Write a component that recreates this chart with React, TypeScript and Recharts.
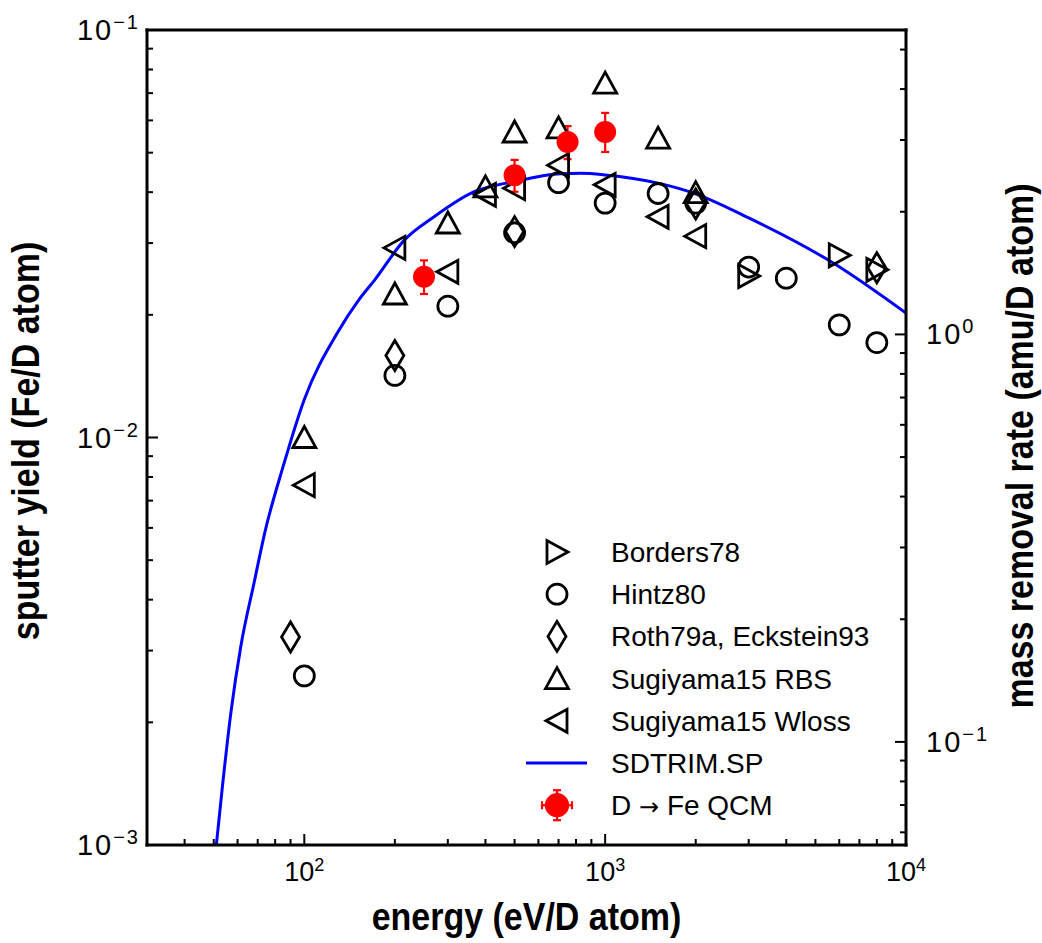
import React from "react";
import { ComposedChart, Scatter, Line, XAxis, YAxis, ErrorBar, Legend } from "recharts";

const FONT = "'Liberation Sans', Arial, Helvetica, sans-serif";
const W = 1042;
const H = 943;
const PLOT = { left: 147, top: 30, right: 906, bottom: 845 };
const FE_AMU = 55.85;

// energy (eV/D) and sputter yield (Fe/D)
const bordersE = [3000, 6000, 8000];
const bordersY = [0.0249, 0.028, 0.0258];

const hintzE = [100, 200, 300, 500, 700, 1000, 1500, 2000, 3000, 4000, 6000, 8000];
const hintzY = [0.0026, 0.0142, 0.021, 0.0318, 0.0422, 0.0376, 0.0397, 0.0376, 0.0262, 0.0246, 0.0189, 0.0171];

const rothE = [90, 200, 500, 2000, 8000];
const rothY = [0.00324, 0.0159, 0.032, 0.0374, 0.0261];

const rbsE = [100, 200, 300, 400, 500, 700, 1000, 1500, 2000];
const rbsY = [0.01, 0.0225, 0.0336, 0.0412, 0.0562, 0.0575, 0.0741, 0.0543, 0.0399];

const wlossE = [100, 200, 300, 400, 500, 700, 1000, 1500, 2000];
const wlossY = [0.00764, 0.0292, 0.0255, 0.0394, 0.0409, 0.0466, 0.0417, 0.0348, 0.0312];

const qcmE = [250, 500, 750, 1000];
const qcmY = [0.0248, 0.044, 0.0531, 0.0562];
const qcmLo = [0.0225, 0.0401, 0.0482, 0.0502];
const qcmHi = [0.0272, 0.048, 0.0581, 0.0626];

const sdE = [51, 53.7, 57, 61.5, 68.4, 73.8, 85, 100, 129, 152, 171, 215, 270, 367, 500, 711, 830, 1000, 1500, 1966, 3000, 5730, 10000];
const sdY = [0.001, 0.00144, 0.00211, 0.00307, 0.00447, 0.00582, 0.00848, 0.0124, 0.0181, 0.0218, 0.0243, 0.0305, 0.0348, 0.0401, 0.0425, 0.0444, 0.0445, 0.0441, 0.0421, 0.0398, 0.0346, 0.0268, 0.0202];

// axis ticks
const xMajor = [100, 1000, 10000];
const xMinor = [40, 50, 60, 70, 80, 90, 200, 300, 400, 500, 600, 700, 800, 900, 2000, 3000, 4000, 5000, 6000, 7000, 8000, 9000];
const yMajor = [0.001, 0.01, 0.1];
const yMinor = [0.002, 0.003, 0.004, 0.005, 0.006, 0.007, 0.008, 0.009, 0.02, 0.03, 0.04, 0.05, 0.06, 0.07, 0.08, 0.09];
const rMajor = [0.1, 1];
const rMinor = [0.06, 0.07, 0.08, 0.09, 0.2, 0.3, 0.4, 0.5, 0.6, 0.7, 0.8, 0.9, 2, 3, 4, 5];

const legendNames = ["Borders78", "Hintz80", "Roth79a, Eckstein93", "Sugiyama15 RBS", "Sugiyama15 Wloss", "SDTRIM.SP", "D \u2192 Fe QCM"];

const xDomain: [number, number] = [30, 10000];
const yDomain: [number, number] = [0.001, 0.1];
const rDomain: [number, number] = [0.001 * FE_AMU, 0.1 * FE_AMU];

const pts = (e: number[], y: number[]) => e.map((v, i) => ({ e: v, y: y[i] }));
const borders = pts(bordersE, bordersY);
const hintz = pts(hintzE, hintzY);
const roth = pts(rothE, rothY);
const rbs = pts(rbsE, rbsY);
const wloss = pts(wlossE, wlossY);
const sdtrim = pts(sdE, sdY);
const qcm = qcmE.map((e, i) => ({ e, y: qcmY[i], err: [qcmY[i] - qcmLo[i], qcmHi[i] - qcmY[i]] }));

const open = { fill: "none", stroke: "#000", strokeWidth: 2.8 };

const circle = (cx: number, cy: number) => <circle cx={cx} cy={cy} r={10} {...open} />;
const triUp = (cx: number, cy: number) => (
  <path d={`M${cx},${cy - 11} L${cx + 11.5},${cy + 10} L${cx - 11.5},${cy + 10} Z`} {...open} />
);
const triLeft = (cx: number, cy: number) => (
  <path d={`M${cx - 11},${cy} L${cx + 10},${cy - 11.5} L${cx + 10},${cy + 11.5} Z`} {...open} />
);
const triRight = (cx: number, cy: number) => (
  <path d={`M${cx + 11},${cy} L${cx - 10},${cy - 11.5} L${cx - 10},${cy + 11.5} Z`} {...open} />
);
const diamond = (cx: number, cy: number) => (
  <path d={`M${cx},${cy - 15} L${cx + 9},${cy} L${cx},${cy + 15} L${cx - 9},${cy} Z`} {...open} />
);
const redDot = (cx: number, cy: number) => <circle cx={cx} cy={cy} r={11} fill="#ff0000" />;

const shape = (fn: (cx: number, cy: number) => React.ReactElement) => (p: any) => fn(p.cx, p.cy);

const pow = (v: number) => {
  const p = Math.round(Math.log10(v));
  return p < 0 ? `\u2212${-p}` : `${p}`;
};

type Side = "bottom" | "top" | "left" | "right";

// inward tick mark (longer on decades) plus the 10^n label on labelled sides
const makeTick = (side: Side, major: number[], labelled: boolean) => (props: any) => {
  const { x, y, payload } = props;
  const isMajor = major.includes(payload.value);
  const len = isMajor ? 11 : 6;
  let line;
  if (side === "bottom") line = <line x1={x} x2={x} y1={y} y2={y - len} />;
  else if (side === "top") line = <line x1={x} x2={x} y1={y} y2={y + len} />;
  else if (side === "left") line = <line x1={x} x2={x + len} y1={y} y2={y} />;
  else line = <line x1={x} x2={x - len} y1={y} y2={y} />;
  let label = null;
  if (labelled && isMajor) {
    if (side === "bottom") {
      label = (
        <text x={x} y={y + 36} textAnchor="middle" fontFamily={FONT} fontSize={27} fill="#000" stroke="none">
          10<tspan dy={-10} fontSize={18}>{pow(payload.value)}</tspan>
        </text>
      );
    } else {
      const left = side === "left";
      label = (
        <text
          x={left ? x - 7 : x + 20}
          y={y + 10}
          textAnchor={left ? "end" : "start"}
          fontFamily={FONT}
          fontSize={29}
          letterSpacing={2}
          fill="#000"
          stroke="none"
        >
          10<tspan dy={-11} fontSize={20}>{pow(payload.value)}</tspan>
        </text>
      );
    }
  }
  return (
    <g stroke="#000" strokeWidth={2}>
      {line}
      {label}
    </g>
  );
};

const title = (text: string, x: number, y: number, rotate: boolean) => (
  <text
    transform={`translate(${x}, ${y})${rotate ? " rotate(-90)" : ""} scale(1, 1.15)`}
    textAnchor="middle"
    fontFamily={FONT}
    fontWeight="bold"
    fontSize={34}
    fill="#000"
  >
    {text}
  </text>
);

function legendSymbol(i: number, cx: number, cy: number) {
  switch (i) {
    case 0: return triRight(cx, cy);
    case 1: return circle(cx, cy);
    case 2: return diamond(cx, cy);
    case 3: return triUp(cx, cy);
    case 4: return triLeft(cx, cy);
    case 5: return <line x1={cx - 31} x2={cx + 30} y1={cy} y2={cy} stroke="#0000ff" strokeWidth={3} />;
    default:
      return (
        <g stroke="#ff0000" strokeWidth={2.2}>
          <line x1={cx} x2={cx} y1={cy - 15} y2={cy + 15} />
          <line x1={cx - 4} x2={cx + 4} y1={cy - 15} y2={cy - 15} />
          <line x1={cx - 4} x2={cx + 4} y1={cy + 15} y2={cy + 15} />
          <line x1={cx - 15} x2={cx + 15} y1={cy} y2={cy} />
          <line x1={cx - 15} x2={cx - 15} y1={cy - 4} y2={cy + 4} />
          <line x1={cx + 15} x2={cx + 15} y1={cy - 4} y2={cy + 4} />
          {redDot(cx, cy)}
        </g>
      );
  }
}

// the arrow glyph is drawn in DejaVu, whose arrow is long like the original's
const legendText = (name: string) => {
  const parts = name.split("\u2192");
  if (parts.length < 2) return name;
  return (
    <>
      {parts[0]}
      <tspan fontFamily="'DejaVu Sans'" fontSize={24}>{"\u2192"}</tspan>
      {parts[1]}
    </>
  );
};

function renderLegend() {
  return (
    <svg width={400} height={310}>
      {legendNames.map((name, i) => {
        const cy = 27 + i * 42.2;
        return (
          <g key={name}>
            {legendSymbol(i, 37, cy)}
            <text x={91} y={cy + 10} fontFamily={FONT} fontSize={28} fill="#000">{legendText(name)}</text>
          </g>
        );
      })}
    </svg>
  );
}

const frame = { stroke: "#000", strokeWidth: 3, strokeLinecap: "square" as const };

export default function App() {
  const common = {
    type: "number" as const,
    scale: "log" as const,
    allowDataOverflow: true,
    interval: 0 as const,
    tickSize: 0,
    tickMargin: 0,
    tickLine: false,
    axisLine: frame,
    stroke: "#000",
  };
  return (
    <div style={{ position: "absolute", left: 0, top: 0, width: W, height: H, background: "#fff" }}>
      <ComposedChart
        width={W}
        height={H}
        margin={{ top: PLOT.top - 1, right: W - PLOT.right - 1, bottom: H - PLOT.bottom - 1, left: PLOT.left - 1 }}
      >
        <XAxis
          xAxisId="x"
          dataKey="e"
          {...common}
          height={1}
          domain={xDomain}
          ticks={[...xMajor, ...xMinor]}
          tick={makeTick("bottom", xMajor, true)}
          label={() => title("energy (eV/D atom)", (PLOT.left + PLOT.right) / 2, 930, false)}
        />
        <XAxis
          xAxisId="top"
          orientation="top"
          {...common}
          height={1}
          domain={xDomain}
          ticks={[...xMajor, ...xMinor]}
          tick={makeTick("top", xMajor, false)}
        />
        <YAxis
          yAxisId="y"
          dataKey="y"
          {...common}
          width={1}
          domain={yDomain}
          ticks={[...yMajor, ...yMinor]}
          tick={makeTick("left", yMajor, true)}
          label={() => title("sputter yield (Fe/D atom)", 39, 441, true)}
        />
        <YAxis
          yAxisId="amu"
          orientation="right"
          {...common}
          width={1}
          domain={rDomain}
          ticks={[...rMajor, ...rMinor]}
          tick={makeTick("right", rMajor, true)}
          label={() => title("mass removal rate (amu/D atom)", 1033, 446, true)}
        />

        <Scatter name="Borders78" data={borders} xAxisId="x" yAxisId="y" shape={shape(triRight)} isAnimationActive={false} />
        <Scatter name="Hintz80" data={hintz} xAxisId="x" yAxisId="y" shape={shape(circle)} isAnimationActive={false} />
        <Scatter name="Roth79a, Eckstein93" data={roth} xAxisId="x" yAxisId="y" shape={shape(diamond)} isAnimationActive={false} />
        <Scatter name="Sugiyama15 RBS" data={rbs} xAxisId="x" yAxisId="y" shape={shape(triUp)} isAnimationActive={false} />
        <Scatter name="Sugiyama15 Wloss" data={wloss} xAxisId="x" yAxisId="y" shape={shape(triLeft)} isAnimationActive={false} />
        <Line
          name="SDTRIM.SP"
          data={sdtrim}
          dataKey="y"
          xAxisId="x"
          yAxisId="y"
          type="monotone"
          stroke="#0000ff"
          strokeWidth={3}
          dot={false}
          activeDot={false}
          isAnimationActive={false}
        />
        <Scatter name="D → Fe QCM" data={qcm} xAxisId="x" yAxisId="y" shape={shape(redDot)} isAnimationActive={false}>
          <ErrorBar dataKey="err" direction="y" width={4} stroke="#ff0000" strokeWidth={2.2} isAnimationActive={false} />
        </Scatter>

        <Legend
          content={renderLegend}
          layout="vertical"
          align="center"
          verticalAlign="middle"
          wrapperStyle={{ left: 520, top: 525, width: 400, height: 310 }}
        />
      </ComposedChart>
    </div>
  );
}
